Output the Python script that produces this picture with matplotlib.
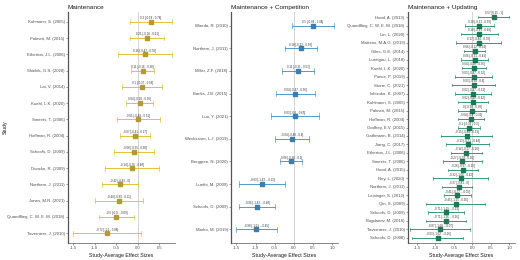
import matplotlib
matplotlib.use("Agg")
import matplotlib.pyplot as plt

plt.rcParams['font.family'] = ['Liberation Sans', 'DejaVu Sans']

# Panel 1: Maintenance
m_studies = ["Kuhmann, S. (2005)", "Palmeri, M. (2015)", "Etherton, J.L. (2006)", "Shields, G.S. (2020)",
             "Lai, V. (2014)", "Kuehl, L.K. (2020)", "Smeets, T. (2006)", "Hoffman, R. (2004)",
             "Schoofs, D. (2009)", "Duncko, R. (2009)", "Northern, J. (2011)", "Jones, M.R. (2021)",
             "Quaedflieg, C. W. E. M. (2018)", "Taverniers, J. (2010)"]
m_est = [0.30, 0.21, 0.16, 0.11, 0.10, 0.04, 0.01, -0.07, -0.08, -0.14, -0.42, -0.44, -0.50, -0.72]
m_lo = [-0.18, -0.18, -0.47, -0.16, -0.37, -0.28, -0.49, -0.41, -0.55, -0.76, -0.83, -0.99, -0.90, -1.50]
m_hi = [0.78, 0.61, 0.78, 0.38, 0.56, 0.36, 0.51, 0.27, 0.38, 0.48, 0.00, 0.11, -0.09, 0.08]

# Panel 2: Maintenance + Competition
c_studies = ["Wierda, R. (2010)", "Northern, J. (2011)", "Miller, Z.F. (2018)", "Banks, J.B. (2015)",
             "Luo, Y. (2021)", "Weckesser, L.J. (2019)", "Berggren, N. (2020)", "Luethi, M. (2009)",
             "Schoofs, D. (2009)", "Marko, M. (2019)"]
c_est = [0.50, 0.18, 0.11, 0.04, 0.03, -0.04, -0.08, -0.83, -0.96, -0.98]
c_lo = [-0.04, -0.22, -0.31, -0.47, -0.60, -0.48, -0.36, -1.43, -1.43, -1.51]
c_hi = [1.04, 0.59, 0.53, 0.56, 0.65, 0.40, 0.20, -0.22, -0.48, -0.45]

# Panel 3: Maintenance + Updating
u_studies = ["Hood, A. (2013)", "Quaedflieg, C. W. E. M. (2018)", "Lin, L. (2020)", "Mattens, M.A.G. (2019)",
             "Giles, G.E. (2014)", "Luettgau, L. (2018)", "Kuehl, L.K. (2020)", "Ponce, P. (2019)",
             "Stone, C. (2021)", "Ishizuka, K. (2007)", "Kuhlmann, S. (2005)", "Palmeri, M. (2015)",
             "Hoffman, R. (2004)", "Godfrey, E.V. (2015)", "Gathmann, B. (2014)", "Jiang, C. (2017)",
             "Etherton, J.L. (2006)", "Smeets, T. (2006)", "Hood, A. (2015)", "Ney, L. (2020)",
             "Northern, J. (2011)", "Leininger, S. (2012)", "Qin, S. (2009)", "Schoofs, D. (2009)",
             "Bogdanov, M. (2016)", "Taverniers, J. (2010)", "Schoofs, D. (2008)"]
u_est = [0.57, 0.19, 0.19, 0.17, 0.06, 0.06, 0.04, 0.03, 0.03, 0.02, 0.02, 0.00, -0.04, -0.10,
         -0.15, -0.13, -0.16, -0.27, -0.26, -0.32, -0.37, -0.41, -0.45, -0.71, -0.71, -0.87, -0.93]
u_lo = [0.15, -0.21, -0.31, -0.44, -0.22, -0.31, -0.28, -0.47, -0.54, -0.47, -0.38, -0.38, -0.40, -0.39,
        -0.84, -0.71, -0.57, -0.79, -0.67, -1.06, -0.81, -0.77, -1.25, -1.19, -1.26, -1.68, -1.62]
u_hi = [1.00, 0.59, 0.69, 0.78, 0.34, 0.43, 0.36, 0.52, 0.60, 0.51, 0.42, 0.38, 0.32, 0.20,
        0.53, 0.44, 0.26, 0.26, 0.15, 0.42, 0.00, -0.05, 0.35, -0.23, -0.16, -0.07, -0.26]

panels = [
    dict(title="Maintenance", studies=m_studies, est=m_est, lo=m_lo, hi=m_hi,
         line="#E5C036", pt="#B39B32", xlim=(-1.62, 0.86), ticks=[-1.5, -1.0, -0.5, 0.0, 0.5],
         left=68, right=175),
    dict(title="Maintenance + Competition", studies=c_studies, est=c_est, lo=c_lo, hi=c_hi,
         line="#4C9BD0", pt="#3A7FB0", xlim=(-1.64, 1.15), ticks=[-1.5, -1.0, -0.5, 0.0, 0.5, 1.0],
         left=231, right=338),
    dict(title="Maintenance + Updating", studies=u_studies, est=u_est, lo=u_lo, hi=u_hi,
         line="#2E9C73", pt="#1D7A57", xlim=(-1.74, 1.15), ticks=[-1.5, -1.0, -0.5, 0.0, 0.5, 1.0],
         left=408, right=515),
]

W, H = 520, 260
fig = plt.figure(figsize=(5.2, 2.6), dpi=100)
top_px, bot_px = 12, 243

def fmt(v):
    s = f"{v:.2f}".rstrip('0').rstrip('.')
    if s in ("-0", ""):
        s = "0"
    return s

for i, p in enumerate(panels):
    ax = fig.add_axes([p['left'] / W, (H - bot_px) / H, (p['right'] - p['left']) / W, (bot_px - top_px) / H])
    n = len(p['studies'])
    ys = list(range(1, n + 1))
    ax.axvline(0, color="#CCCCCC", lw=0.6, zorder=0)
    cap = 0.12 if n < 12 else 0.15
    for y, e, lo, hi in zip(ys, p['est'], p['lo'], p['hi']):
        ax.plot([lo, hi], [y, y], color=p['line'], lw=0.7, zorder=2)
        ax.plot([lo, lo], [y - cap, y + cap], color=p['line'], lw=0.5, zorder=2)
        ax.plot([hi, hi], [y - cap, y + cap], color=p['line'], lw=0.5, zorder=2)
        ax.plot([e], [y], 's', color=p['pt'], ms=2.2, mec=p['pt'], zorder=3)
        ax.annotate(f"{fmt(e)} [{fmt(lo)} - {fmt(hi)}]", xy=(e, y), xytext=(0, 1.2),
                    textcoords='offset points', ha='center', va='bottom',
                    fontsize=2.1, color="#333333")
    ax.set_ylim(n + 0.6, 0.4)
    ax.set_yticks(ys)
    ax.set_yticklabels(p['studies'], fontsize=3.1, color="#4D4D4D")
    ax.set_xlim(*p['xlim'])
    ax.set_xticks(p['ticks'])
    ax.set_xticklabels([f"{t:.1f}" for t in p['ticks']], fontsize=3.1, color="#4D4D4D")
    ax.set_xlabel("Study-Average Effect Sizes", fontsize=3.8, labelpad=1.5, color="#1A1A1A")
    ax.set_title(p['title'], fontsize=4.6, loc='left', pad=2.5, color="#1A1A1A")
    for s in ['top', 'right']:
        ax.spines[s].set_visible(False)
    ax.spines['left'].set_color("#555555")
    ax.spines['left'].set_linewidth(0.9)
    ax.spines['bottom'].set_color("#555555")
    ax.spines['bottom'].set_linewidth(0.5)
    ax.tick_params(axis='both', length=1.5, width=0.4, pad=1, color="#555555")
    if i == 0:
        ax.set_ylabel("Study", fontsize=3.8, color="#1A1A1A")
        ax.yaxis.set_label_coords((8 - p['left']) / (p['right'] - p['left']), 0.5)

fig.savefig("out.png", dpi=100)
